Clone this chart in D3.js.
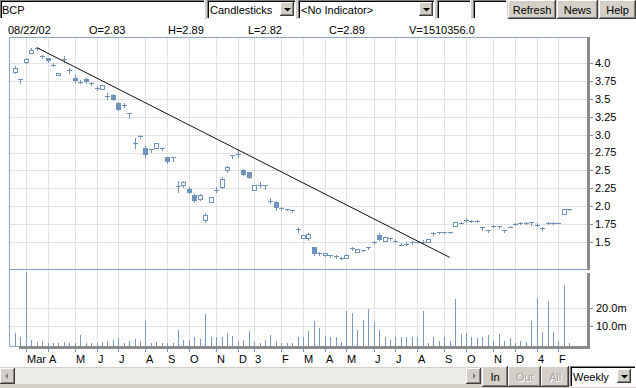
<!DOCTYPE html>
<html>
<head>
<meta charset="utf-8">
<script src="https://cdn.jsdelivr.net/npm/d3@7"></script>
<style>
  html, body { margin: 0; padding: 0; background: #fff; }
  svg { display: block; font-family: "Liberation Sans", Arial, sans-serif; font-size: 11px; }
</style>
</head>
<body>
<div id="chart"></div>
<script>
// Weekly BCP bars (one entry per week)
const opens  = [3.88,3.78,4.02,4.15,4.21,4.10,4.07,3.98,3.83,4.06,3.90,3.80,3.74,3.78,3.72,3.66,3.64,3.54,3.55,3.44,
                3.42,3.31,2.88,2.98,2.82,2.80,2.82,2.82,2.69,2.68,2.28,2.30,2.24,2.15,2.10,1.81,2.06,2.22,2.26,2.50,
                2.71,2.73,2.51,2.47,2.23,2.30,2.30,2.07,2.05,1.97,1.96,1.95,1.68,1.55,1.55,1.42,1.34,1.31,1.32,1.30,
                1.27,1.27,1.41,1.36,1.38,1.42,1.49,1.60,1.51,1.55,1.51,1.46,1.47,1.49,1.50,1.50,1.50,1.62,1.64,1.64,
                1.64,1.72,1.76,1.80,1.79,1.79,1.71,1.66,1.72,1.72,1.66,1.71,1.75,1.76,1.76,1.77,1.74,1.69,1.76,1.76,
                1.76,1.89,1.96];
const highs  = [3.96,3.78,4.07,4.21,4.23,4.12,4.08,4.00,3.86,4.10,3.94,3.84,3.76,3.80,3.74,3.68,3.70,3.58,3.57,3.46,
                3.45,3.31,2.95,3.00,2.84,2.80,2.89,2.82,2.69,2.68,2.35,2.35,2.27,2.17,2.17,1.90,2.12,2.27,2.41,2.56,
                2.72,2.79,2.52,2.47,2.29,2.33,2.30,2.11,2.07,1.98,1.96,1.95,1.71,1.59,1.62,1.43,1.36,1.34,1.32,1.32,
                1.28,1.33,1.43,1.40,1.39,1.43,1.51,1.62,1.56,1.55,1.54,1.48,1.49,1.51,1.50,1.52,1.54,1.64,1.64,1.64,
                1.64,1.77,1.77,1.83,1.80,1.80,1.71,1.67,1.73,1.72,1.67,1.72,1.76,1.77,1.77,1.77,1.76,1.71,1.77,1.77,
                1.76,1.96,1.96];
const lows   = [3.86,3.72,4.01,4.14,4.19,4.07,4.02,3.96,3.83,4.02,3.86,3.74,3.72,3.73,3.70,3.63,3.64,3.50,3.48,3.34,
                3.39,3.24,2.82,2.96,2.69,2.76,2.82,2.78,2.60,2.63,2.20,2.27,2.18,2.05,2.09,1.78,2.06,2.19,2.25,2.48,
                2.67,2.69,2.44,2.39,2.23,2.27,2.24,2.04,1.95,1.95,1.95,1.92,1.64,1.55,1.53,1.31,1.32,1.30,1.28,1.27,
                1.26,1.27,1.39,1.36,1.37,1.40,1.47,1.53,1.51,1.53,1.49,1.45,1.46,1.47,1.50,1.48,1.50,1.59,1.62,1.62,
                1.62,1.72,1.76,1.78,1.78,1.78,1.66,1.64,1.70,1.69,1.64,1.70,1.73,1.75,1.75,1.74,1.72,1.67,1.75,1.75,
                1.76,1.89,1.95];
const closes = [3.94,3.78,4.06,4.19,4.21,4.09,4.04,3.98,3.86,4.06,3.90,3.76,3.74,3.75,3.72,3.66,3.70,3.54,3.50,3.36,
                3.42,3.31,2.88,2.98,2.73,2.80,2.89,2.82,2.63,2.68,2.28,2.33,2.19,2.09,2.15,1.88,2.12,2.22,2.38,2.55,
                2.71,2.73,2.45,2.41,2.29,2.30,2.30,2.07,1.98,1.97,1.96,1.95,1.68,1.59,1.61,1.34,1.34,1.34,1.32,1.30,
                1.27,1.32,1.41,1.40,1.38,1.42,1.49,1.54,1.56,1.55,1.51,1.46,1.47,1.49,1.50,1.50,1.54,1.62,1.64,1.64,
                1.64,1.77,1.76,1.80,1.79,1.79,1.71,1.66,1.72,1.72,1.66,1.71,1.75,1.76,1.76,1.77,1.74,1.69,1.75,1.75,
                1.76,1.96,1.96];
// weekly volume, millions of shares
const volumes = [5.9,3.5,40,2.2,0.9,1.7,0.5,0.5,0.5,1.0,0.5,0.5,5.0,0.5,0.5,0.5,1.0,1.3,2.3,3.2,
                 0.5,1.6,2.5,1.6,12.4,0.5,1.0,0.6,0.6,0.6,7.8,1.8,1.8,3.9,2.5,16.5,3.5,3.5,4.0,5.7,
                 4.5,1.7,2.2,7.2,1.1,0.5,1.8,4.6,1.4,0.5,0.4,0.4,3.5,4.0,6.8,12.8,9.0,4.2,3.8,3.8,
                 0.9,17.9,17.0,7.8,13.3,19.3,12.0,7.4,3.5,2.2,3.5,4.0,4.0,4.0,3.5,17.9,0.5,3.5,1.3,3.5,
                 1.7,24.8,5.3,5.9,3.5,3.1,4.0,4.6,1.7,5.3,1.3,3.1,0.5,1.7,1.0,12.4,25.4,6.5,24.0,6.5,
                 1.3,32.4,0.3];

// first bar of each month and its label
const monthBars   = [2,6,11,15,19,24,28,32,37,41,44,49,53,57,61,66,70,74,79,83,88,92,96,100];
const monthLabels = ["Mar","A","M","J","J","A","S","O","N","D","3","F","M","A","M","J","J","A","S","O","N","D","4","F"];
const priceTicks  = [4.0,3.75,3.5,3.25,3.0,2.75,2.5,2.25,2.0,1.75,1.5];
const volTicks    = [20,10];

// user-drawn trend line: [bar, price]
const trendStart = [4, 4.22];
const trendEnd   = [80, 1.28];

const infoLabels = ["08/22/02", "O=2.83", "H=2.89", "L=2.82", "C=2.89", "V=1510356.0"];
const infoX      = [8, 89, 168, 248, 329, 409];

const width = 636, height = 388;
const pLeft = 9, pRight = 587, pTop = 37, priceBottom = 269, volBottom = 346;
const blue = "#6f93bb", grid = "#e2e2e2", frame = "#8ea8c3", face = "#d4d0c8";

const x = d3.scaleLinear().domain([0, 102]).range([15, 569.3]);
const y = d3.scaleLinear().domain([1.5, 4.0]).range([241.7, 63.3]);
const yv = d3.scaleLinear().domain([0, 20]).range([343.7, 307.7]);

const svg = d3.select("#chart").append("svg")
    .attr("width", width)
    .attr("height", height)
    .attr("shape-rendering", "crispEdges");

const px = v => Math.round(v) + 0.5;

// ---- toolbar ----
function sunken(g, x0, y0, w, h) {
  g.append("rect").attr("x", x0).attr("y", y0).attr("width", w).attr("height", h).attr("fill", "#fff");
  g.append("path").attr("fill", "none").attr("stroke", "#808080")
      .attr("d", `M${x0 + 0.5},${y0 + h}V${y0 + 0.5}H${x0 + w}`);
  g.append("path").attr("fill", "none").attr("stroke", "#000")
      .attr("d", `M${x0 + 1.5},${y0 + h - 1}V${y0 + 1.5}H${x0 + w - 1}`);
  g.append("path").attr("fill", "none").attr("stroke", "#fff")
      .attr("d", `M${x0},${y0 + h - 0.5}H${x0 + w - 0.5}V${y0}`);
}
function raised(g, x0, y0, w, h) {
  g.append("rect").attr("x", x0).attr("y", y0).attr("width", w).attr("height", h).attr("fill", face);
  g.append("path").attr("fill", "none").attr("stroke", "#fff")
      .attr("d", `M${x0 + 0.5},${y0 + h - 1}V${y0 + 0.5}H${x0 + w - 1}`);
  g.append("path").attr("fill", "none").attr("stroke", "#404040")
      .attr("d", `M${x0},${y0 + h - 0.5}H${x0 + w - 0.5}V${y0}`);
  g.append("path").attr("fill", "none").attr("stroke", "#808080")
      .attr("d", `M${x0 + 1},${y0 + h - 1.5}H${x0 + w - 1.5}V${y0 + 1}`);
}
function dropArrow(g, x0, y0) {
  raised(g, x0, y0, 14, 14);
  g.append("path").attr("fill", "#000").attr("shape-rendering", "auto")
      .attr("d", `M${x0 + 4},${y0 + 6}h7l-3.5,3.5z`);
}
function label(g, tx, ty, str, anchor, fill) {
  g.append("text").attr("x", tx).attr("y", ty).attr("text-anchor", anchor || "start")
      .attr("fill", fill || "#000").text(str);
}

const bar = svg.append("g");
bar.append("rect").attr("width", width).attr("height", 19).attr("fill", face);
sunken(bar, 0, 0, 205, 19);
label(bar, 2, 14, "BCP");
sunken(bar, 207, 0, 89, 19);
label(bar, 210, 14, "Candlesticks");
dropArrow(bar, 280, 2);
sunken(bar, 298, 0, 137, 19);
label(bar, 301, 14, "<No Indicator>");
dropArrow(bar, 419, 2);
sunken(bar, 437, 0, 34, 19);
sunken(bar, 473, 0, 34, 19);
[["Refresh", 508, 48], ["News", 557, 41], ["Help", 599, 37]].forEach(([t, bx, bw]) => {
  raised(bar, bx, 0, bw, 19);
  label(bar, bx + bw / 2, 14, t, "middle");
});

// ---- quote line ----
svg.append("g").selectAll("text")
  .data(infoLabels)
  .join("text")
    .attr("x", (d, i) => infoX[i])
    .attr("y", 34)
    .attr("fill", "#000")
    .text(d => d);

// ---- grid ----
const gridG = svg.append("g").attr("stroke", grid);
gridG.selectAll("line.v")
  .data(monthBars)
  .join("line")
    .attr("class", "v")
    .attr("x1", d => px(x(d))).attr("x2", d => px(x(d)))
    .attr("y1", pTop).attr("y2", volBottom);
gridG.selectAll("line.h")
  .data(priceTicks)
  .join("line")
    .attr("class", "h")
    .attr("x1", pLeft).attr("x2", pRight)
    .attr("y1", d => px(y(d))).attr("y2", d => px(y(d)));
gridG.selectAll("line.hv")
  .data(volTicks)
  .join("line")
    .attr("class", "hv")
    .attr("x1", pLeft).attr("x2", pRight)
    .attr("y1", d => px(yv(d))).attr("y2", d => px(yv(d)));

// ---- frames ----
svg.append("path").attr("fill", "none").attr("stroke", frame)
    .attr("d", `M${pRight},${pTop + 0.5}H${pLeft + 0.5}V${volBottom + 0.5}H${pRight}`);
svg.append("line").attr("stroke", "#7d9bbb")
    .attr("x1", pLeft).attr("x2", pRight).attr("y1", priceBottom + 0.5).attr("y2", priceBottom + 0.5);

// ---- volume ----
svg.append("g").attr("stroke", "#7899c0")
  .selectAll("line")
  .data(volumes)
  .join("line")
    .attr("x1", (d, i) => px(x(i))).attr("x2", (d, i) => px(x(i)))
    .attr("y1", yv(0) + 2).attr("y2", d => Math.round(yv(d)));

// ---- candles ----
const cg = svg.append("g");
opens.forEach((o, i) => {
  const c = closes[i];
  const cx = Math.round(x(i));
  const yh = Math.round(y(highs[i])), yl = Math.round(y(lows[i]));
  const yt = Math.round(y(Math.max(o, c))), yb = Math.round(y(Math.min(o, c)));
  if (yl > yh) {
    cg.append("line").attr("stroke", blue)
        .attr("x1", cx + 0.5).attr("x2", cx + 0.5).attr("y1", yh).attr("y2", yl + 1);
  }
  if (yb - yt < 2) {
    cg.append("line").attr("stroke", blue)
        .attr("x1", cx - 2).attr("x2", cx + 3).attr("y1", yt + 0.5).attr("y2", yt + 0.5);
  } else if (c >= o) {
    cg.append("rect").attr("fill", "#fff").attr("stroke", blue)
        .attr("x", cx - 1.5).attr("y", yt + 0.5).attr("width", 4).attr("height", yb - yt);
  } else {
    cg.append("rect").attr("fill", blue)
        .attr("x", cx - 2).attr("y", yt).attr("width", 5).attr("height", yb - yt + 1);
  }
});

// ---- trend line ----
svg.append("line")
    .attr("shape-rendering", "auto")
    .attr("stroke", "#111").attr("stroke-width", 1)
    .attr("x1", x(trendStart[0])).attr("y1", y(trendStart[1]))
    .attr("x2", x(trendEnd[0])).attr("y2", y(trendEnd[1]));

// ---- axis bars ----
const axisGray = "#8b8b8b";
svg.append("rect").attr("fill", axisGray).attr("x", pRight).attr("y", pTop).attr("width", 3).attr("height", priceBottom - pTop + 1);
svg.append("rect").attr("fill", axisGray).attr("x", pRight).attr("y", priceBottom + 4).attr("width", 3).attr("height", volBottom - priceBottom - 1);
svg.append("rect").attr("fill", axisGray).attr("x", 19).attr("y", volBottom).attr("width", pRight + 3 - 19).attr("height", 3);

// right price axis
const pa = svg.append("g");
pa.selectAll("line")
  .data(priceTicks)
  .join("line")
    .attr("stroke", blue)
    .attr("x1", pRight + 3).attr("x2", pRight + 6)
    .attr("y1", d => px(y(d))).attr("y2", d => px(y(d)));
pa.selectAll("text")
  .data(priceTicks)
  .join("text")
    .attr("x", 595).attr("y", d => y(d)).attr("dy", "0.35em")
    .attr("fill", "#000")
    .text(d => d3.format(d % 0.5 === 0 ? ".1f" : ".2f")(d));

// right volume axis
const va = svg.append("g");
va.selectAll("line")
  .data(volTicks)
  .join("line")
    .attr("stroke", blue)
    .attr("x1", pRight + 3).attr("x2", pRight + 6)
    .attr("y1", d => px(yv(d))).attr("y2", d => px(yv(d)));
va.selectAll("text")
  .data(volTicks)
  .join("text")
    .attr("x", 596).attr("y", d => yv(d)).attr("dy", "0.35em")
    .attr("fill", "#000")
    .text(d => d3.format(".1f")(d) + "m");

// bottom month axis
const ma = svg.append("g");
ma.selectAll("line")
  .data(monthBars)
  .join("line")
    .attr("stroke", blue)
    .attr("x1", d => px(x(d))).attr("x2", d => px(x(d)))
    .attr("y1", volBottom + 3).attr("y2", volBottom + 6);
ma.selectAll("text")
  .data(monthBars)
  .join("text")
    .attr("x", d => Math.round(x(d)) + 1).attr("y", 363)
    .attr("fill", "#000")
    .text((d, i) => monthLabels[i]);

// ---- bottom controls ----
const bot = svg.append("g");
bot.append("rect").attr("x", 0).attr("y", 366).attr("width", width).attr("height", 22).attr("fill", face);
bot.append("line").attr("stroke", "#fff").attr("x1", 0).attr("x2", width).attr("y1", 366.5).attr("y2", 366.5);
bot.append("rect").attr("x", 0).attr("y", 368).attr("width", 481).attr("height", 16).attr("fill", "#ecebe6");
raised(bot, 0, 368, 15, 16);
bot.append("path").attr("fill", "#808080").attr("shape-rendering", "auto").attr("d", "M5,376l3,-3v6z");
raised(bot, 466, 368, 15, 16);
bot.append("path").attr("fill", "#808080").attr("shape-rendering", "auto").attr("d", "M476,376l-3,-3v6z");
[["In", 482, 26, "#000"], ["Out", 508, 33, "#a0a0a0"], ["All", 541, 28, "#a0a0a0"]].forEach(([t, bx, bw, col]) => {
  raised(bot, bx, 366, bw, 21);
  if (col !== "#000") label(bot, bx + bw / 2 + 1, 382, t, "middle", "#fff");
  label(bot, bx + bw / 2, 381, t, "middle", col);
});
sunken(bot, 570, 366, 66, 21);
label(bot, 573, 381, "Weekly");
dropArrow(bot, 617, 369);
</script>
</body>
</html>
